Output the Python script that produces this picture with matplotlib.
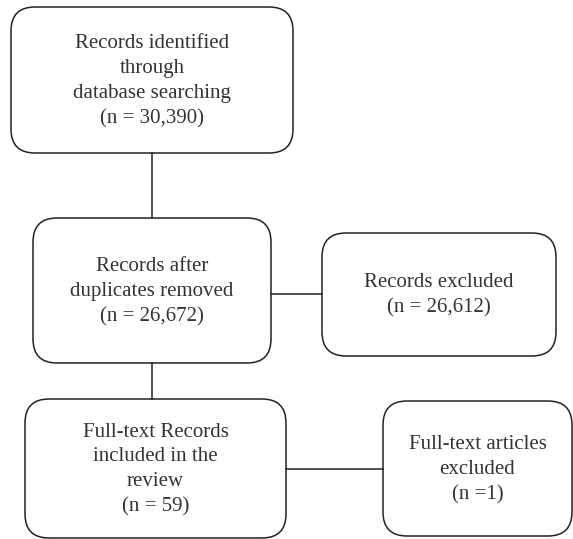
import matplotlib
matplotlib.use("Agg")
import matplotlib.pyplot as plt
from matplotlib.patches import FancyBboxPatch

# flowchart content
labels = [
    "Records identified\nthrough\ndatabase searching",
    "Records after\nduplicates removed",
    "Records excluded",
    "Full-text Records\nincluded in the\nreview",
    "Full-text articles\nexcluded",
]
counts = ["(n = 30,390)", "(n = 26,672)", "(n = 26,612)", "(n = 59)", "(n =1)"]

# box geometry in pixels: left, top, right, bottom
boxes = [
    (11, 7, 293, 153),
    (33, 218, 271, 363),
    (322, 233, 556, 356),
    (25, 399, 286, 538),
    (383, 401, 572, 536),
]
line_color = "#222222"
text_color = "#333333"

fig = plt.figure(figsize=(5.73, 5.39), dpi=100)
ax = fig.add_axes([0, 0, 1, 1])
ax.set_xlim(0, 573)
ax.set_ylim(539, 0)
ax.axis("off")

for (x0, y0, x1, y1), lab, n in zip(boxes, labels, counts):
    box = FancyBboxPatch((x0, y0), x1 - x0, y1 - y0,
                         boxstyle="round,pad=0,rounding_size=24",
                         facecolor="white", edgecolor=line_color, linewidth=1.1)
    ax.add_patch(box)
    ax.text((x0 + x1) / 2, (y0 + y1) / 2 + 1, lab + "\n" + n,
            ha="center", va="center", fontsize=15, color=text_color,
            family="Liberation Serif", linespacing=1.42)

# connectors
ax.plot([152, 152], [153, 218], color=line_color, lw=1.1)
ax.plot([152, 152], [363, 399], color=line_color, lw=1.1)
ax.plot([271, 322], [294, 294], color=line_color, lw=1.1)
ax.plot([286, 383], [469, 469], color=line_color, lw=1.1)

fig.savefig("out.png", dpi=100)
